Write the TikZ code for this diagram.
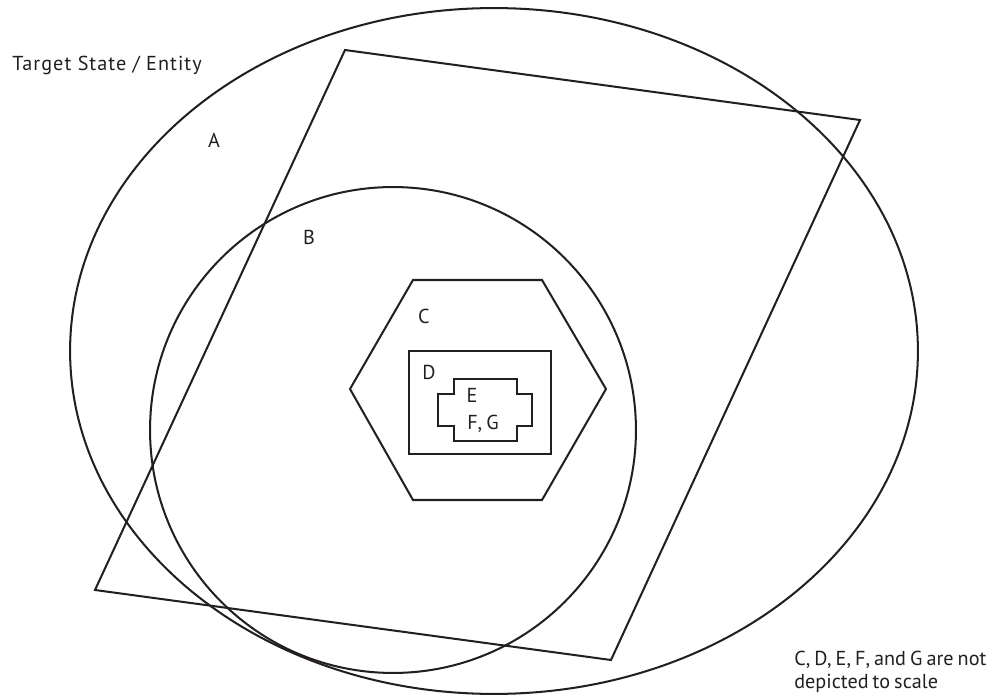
\documentclass[tikz,border=0pt]{standalone}
\usepackage{fontspec}
\setmainfont{PT Sans}
\newfontfamily\widefont[LetterSpace=5]{PT Sans}
\newfontfamily\tightfont[WordSpace=0.75]{PT Sans}
\usetikzlibrary{positioning}
\definecolor{ink}{HTML}{231F20}
\tikzset{
  shp/.style={draw=ink, line width=1.15pt, line join=miter},
  lbl/.style={font=\fontsize{11.5}{14}\selectfont, text=ink, inner sep=0pt, anchor=base},
}

\begin{document}
\begin{tikzpicture}[x=0.02cm, y=-0.02cm]
  \useasboundingbox (0,0) rectangle (992,696);
  % outer sets
  \draw[shp] (494,351) ellipse [x radius=8.48cm, y radius=6.86cm];
  \draw[shp] (393,430) circle [radius=4.86cm];
  \draw[shp] (345,50) -- (860,120) -- (611,660) -- (95,590) -- cycle;
  % nested C, D, E
  \draw[shp] (413,280) -- (542,280) -- (606,389) -- (542,500) -- (413,500) -- (350,389) -- cycle;
  \draw[shp] (409,351) rectangle (551,454);
  \draw[shp] (454,379) -- (517,379) -- (517,394) -- (532,394) -- (532,426) -- (517,426)
    -- (517,441) -- (454,441) -- (454,426) -- (438,426) -- (438,394) -- (454,394) -- cycle;
  % labels
  \node[lbl, anchor=base west] (title) at (12,71) {\widefont Target State / Entity};
  \node[lbl] (labA) at (214,148) {A};
  \node[lbl] (labB) at (309,245) {B};
  \node[lbl] (labC) at (424,323) {C};
  \node[lbl] (labD) at (429,379) {D};
  \node[lbl] (labE) at (472,402) {E};
  \node[lbl] (labFG) at (483,429) {\tightfont F, G};
  \node[lbl, anchor=base west] (note1) at (794,665) {\tightfont C, D, E, F, and G are not};
  \node[lbl, anchor=base west] (note2) at (794,688) {\tightfont depicted to scale};
\end{tikzpicture}
\end{document}
